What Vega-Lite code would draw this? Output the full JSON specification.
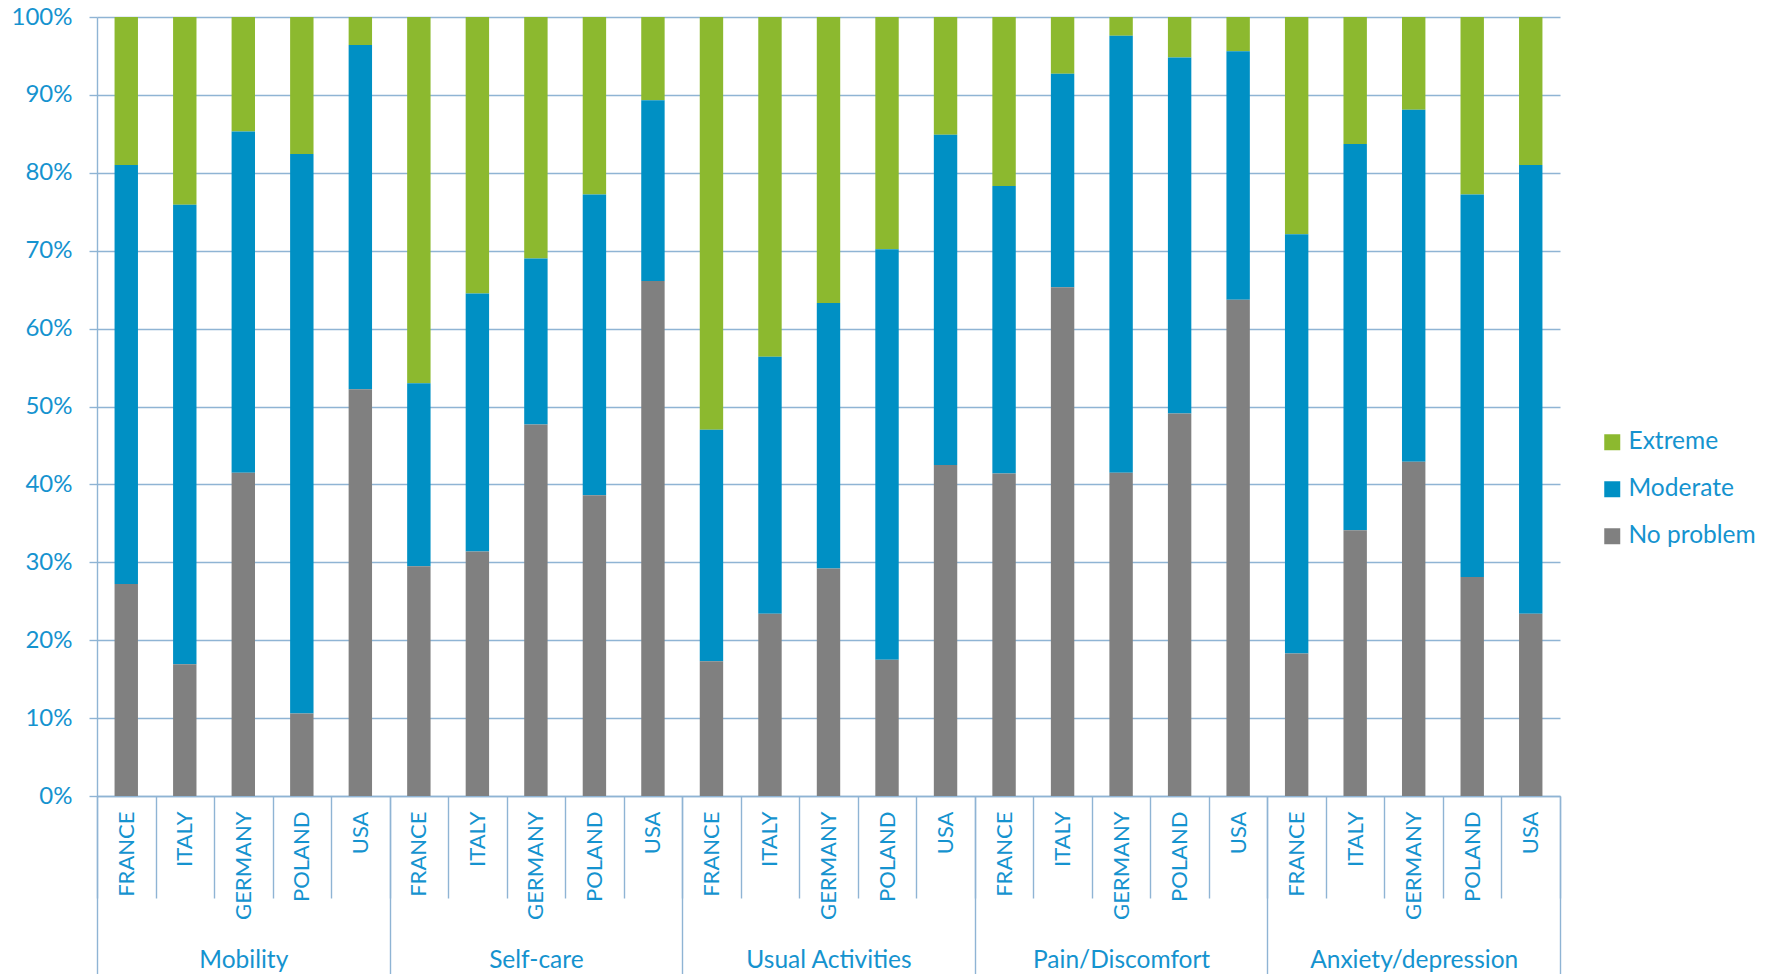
{
  "$schema": "https://vega.github.io/schema/vega-lite/v6.json",
  "width": 1463,
  "height": 779,
  "autosize": {"type": "none"},
  "padding": {"left": 97, "top": 17, "right": 213, "bottom": 178},
  "background": "white",
  "config": {
    "view": {"stroke": null},
    "font": "Lato",
    "axis": {
      "labelColor": "#1593CF",
      "labelFont": "Lato",
      "labelFontSize": 22,
      "gridColor": "#8FB4D4",
      "gridWidth": 1.4,
      "domainColor": "#8FB4D4",
      "domainWidth": 1.4,
      "tickColor": "#8FB4D4",
      "tickWidth": 1.4,
      "titleColor": "#1593CF"
    },
    "legend": {
      "labelColor": "#1593CF",
      "labelFont": "Lato",
      "labelFontSize": 24.5
    }
  },
  "data": {
    "values": [
      {"dim": "Mobility", "country": "FRANCE", "key": "Mobility|FRANCE", "No problem": 27.2, "Moderate": 53.8, "Extreme": 19.0},
      {"dim": "Mobility", "country": "ITALY", "key": "Mobility|ITALY", "No problem": 16.9, "Moderate": 59.0, "Extreme": 24.1},
      {"dim": "Mobility", "country": "GERMANY", "key": "Mobility|GERMANY", "No problem": 41.5, "Moderate": 43.8, "Extreme": 14.7},
      {"dim": "Mobility", "country": "POLAND", "key": "Mobility|POLAND", "No problem": 10.6, "Moderate": 71.8, "Extreme": 17.6},
      {"dim": "Mobility", "country": "USA", "key": "Mobility|USA", "No problem": 52.2, "Moderate": 44.2, "Extreme": 3.6},
      {"dim": "Self-care", "country": "FRANCE", "key": "Self-care|FRANCE", "No problem": 29.5, "Moderate": 23.5, "Extreme": 47.0},
      {"dim": "Self-care", "country": "ITALY", "key": "Self-care|ITALY", "No problem": 31.4, "Moderate": 33.1, "Extreme": 35.5},
      {"dim": "Self-care", "country": "GERMANY", "key": "Self-care|GERMANY", "No problem": 47.7, "Moderate": 21.3, "Extreme": 31.0},
      {"dim": "Self-care", "country": "POLAND", "key": "Self-care|POLAND", "No problem": 38.6, "Moderate": 38.6, "Extreme": 22.8},
      {"dim": "Self-care", "country": "USA", "key": "Self-care|USA", "No problem": 66.1, "Moderate": 23.2, "Extreme": 10.7},
      {"dim": "Usual Activities", "country": "FRANCE", "key": "Usual Activities|FRANCE", "No problem": 17.3, "Moderate": 29.7, "Extreme": 53.0},
      {"dim": "Usual Activities", "country": "ITALY", "key": "Usual Activities|ITALY", "No problem": 23.4, "Moderate": 33.0, "Extreme": 43.6},
      {"dim": "Usual Activities", "country": "GERMANY", "key": "Usual Activities|GERMANY", "No problem": 29.2, "Moderate": 34.1, "Extreme": 36.7},
      {"dim": "Usual Activities", "country": "POLAND", "key": "Usual Activities|POLAND", "No problem": 17.5, "Moderate": 52.7, "Extreme": 29.8},
      {"dim": "Usual Activities", "country": "USA", "key": "Usual Activities|USA", "No problem": 42.5, "Moderate": 42.4, "Extreme": 15.1},
      {"dim": "Pain/Discomfort", "country": "FRANCE", "key": "Pain/Discomfort|FRANCE", "No problem": 41.4, "Moderate": 36.9, "Extreme": 21.7},
      {"dim": "Pain/Discomfort", "country": "ITALY", "key": "Pain/Discomfort|ITALY", "No problem": 65.3, "Moderate": 27.4, "Extreme": 7.3},
      {"dim": "Pain/Discomfort", "country": "GERMANY", "key": "Pain/Discomfort|GERMANY", "No problem": 41.5, "Moderate": 56.1, "Extreme": 2.4},
      {"dim": "Pain/Discomfort", "country": "POLAND", "key": "Pain/Discomfort|POLAND", "No problem": 49.1, "Moderate": 45.7, "Extreme": 5.2},
      {"dim": "Pain/Discomfort", "country": "USA", "key": "Pain/Discomfort|USA", "No problem": 63.7, "Moderate": 31.9, "Extreme": 4.4},
      {"dim": "Anxiety/depression", "country": "FRANCE", "key": "Anxiety/depression|FRANCE", "No problem": 18.3, "Moderate": 53.8, "Extreme": 27.9},
      {"dim": "Anxiety/depression", "country": "ITALY", "key": "Anxiety/depression|ITALY", "No problem": 34.1, "Moderate": 49.6, "Extreme": 16.3},
      {"dim": "Anxiety/depression", "country": "GERMANY", "key": "Anxiety/depression|GERMANY", "No problem": 42.9, "Moderate": 45.2, "Extreme": 11.9},
      {"dim": "Anxiety/depression", "country": "POLAND", "key": "Anxiety/depression|POLAND", "No problem": 28.1, "Moderate": 49.1, "Extreme": 22.8},
      {"dim": "Anxiety/depression", "country": "USA", "key": "Anxiety/depression|USA", "No problem": 23.4, "Moderate": 57.6, "Extreme": 19.0}
    ]
  },
  "transform": [
    {"fold": ["Extreme", "Moderate", "No problem"], "as": ["level", "pct"]}
  ],
  "layer": [
    {
      "mark": {"type": "bar", "width": {"band": 0.4}},
      "encoding": {
        "x": {
          "field": "key",
          "type": "nominal",
          "sort": null,
          "scale": {"paddingInner": 0, "paddingOuter": 0},
          "axis": {
            "orient": "bottom",
            "title": null,
            "labelExpr": "split(datum.label, '|')[1]",
            "labelAngle": -90,
            "labelOverlap": false,
            "tickBand": "extent",
            "ticks": true,
            "tickSize": 102,
            "labelPadding": -87,
            "domain": true,
            "grid": false
          }
        },
        "y": {
          "field": "pct",
          "type": "quantitative",
          "stack": "zero",
          "scale": {"domain": [0, 100], "nice": false},
          "axis": {
            "title": null,
            "values": [0, 10, 20, 30, 40, 50, 60, 70, 80, 90, 100],
            "labelExpr": "datum.value + '%'",
            "labelFontSize": 24,
            "grid": true,
            "ticks": true,
            "tickSize": 8,
            "labelPadding": 17,
            "domain": true
          }
        },
        "color": {
          "field": "level",
          "type": "nominal",
          "scale": {
            "domain": ["Extreme", "Moderate", "No problem"],
            "range": ["#8CB92F", "#0090C4", "#808080"]
          },
          "legend": {
            "title": null,
            "orient": "none",
            "legendX": 1503,
            "legendY": 413,
            "symbolType": "square",
            "symbolSize": 256,
            "symbolStrokeWidth": 0,
            "labelOffset": 4,
            "rowPadding": 22,
            "padding": 0
          }
        },
        "order": {"field": "level", "sort": "descending"}
      }
    },
    {
      "mark": {"type": "bar", "opacity": 0},
      "encoding": {
        "x": {
          "field": "dim",
          "type": "nominal",
          "sort": null,
          "scale": {"paddingInner": 0, "paddingOuter": 0},
          "axis": {
            "orient": "bottom",
            "title": null,
            "labelAngle": 0,
            "labelLimit": 400,
            "labelFontSize": 24.5,
            "tickBand": "extent",
            "ticks": true,
            "tickSize": 178,
            "labelPadding": -26,
            "domain": false,
            "grid": false
          }
        }
      }
    }
  ],
  "resolve": {"scale": {"x": "independent"}, "axis": {"x": "independent"}}
}
